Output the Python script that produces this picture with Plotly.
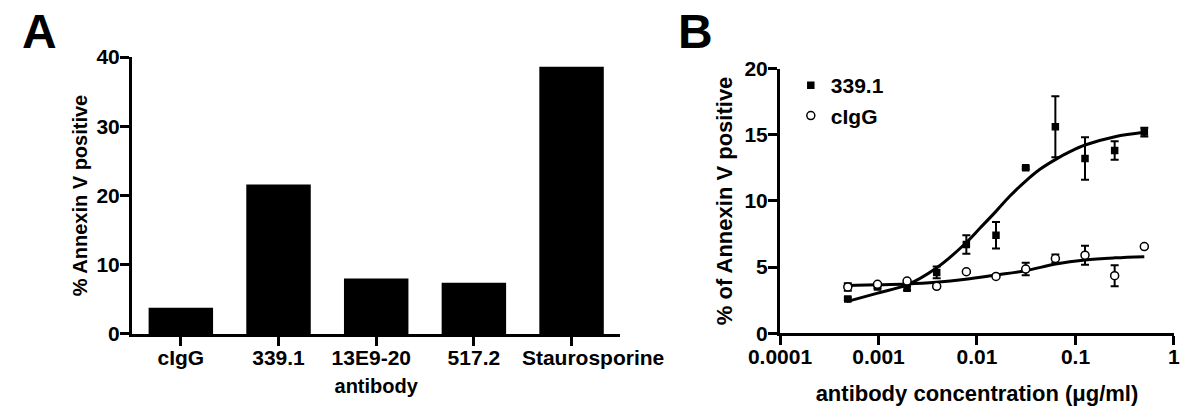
import plotly.graph_objects as go

# panel A - bar chart
antibodies = ["cIgG", "339.1", "13E9-20", "517.2", "Staurosporine"]
annexin_pct = [3.8, 21.6, 8.0, 7.4, 38.6]
# the long last label sits a little right of its tick in the original
label_offset = [0, 0, -0.05, 0, 0.22]

# panel B - dose response (2-fold dilution series from 0.5 ug/ml)
conc = [0.000488, 0.000977, 0.00195, 0.0039, 0.0078, 0.0156, 0.03125, 0.0625, 0.125, 0.25, 0.5]
ab339_mean = [2.6, 3.5, 3.4, 4.6, 6.7, 7.4, 12.5, 15.6, 13.2, 13.8, 15.2]
ab339_err = [0.1, 0.1, 0.15, 0.45, 0.7, 1.0, 0.1, 2.3, 1.6, 0.7, 0.33]
cigg_mean = [3.5, 3.7, 3.95, 3.55, 4.65, 4.3, 4.85, 5.65, 5.9, 4.35, 6.55]
cigg_err = [0.28, 0.1, 0.1, 0.1, 0.1, 0.1, 0.47, 0.3, 0.72, 0.79, 0.1]

# fitted curves
fit339_x = [0.000475, 0.00096, 0.00194, 0.00384, 0.00767, 0.0107, 0.0155, 0.0216, 0.0312,
            0.0436, 0.063, 0.088, 0.125, 0.252, 0.5]
fit339_y = [2.39, 3.02, 3.65, 4.91, 6.8, 7.93, 9.19, 10.37, 11.5, 12.39, 13.14, 13.72, 14.22, 14.85, 15.18]
fitcigg_x = [0.000475, 0.00096, 0.00194, 0.00384, 0.00767, 0.0155, 0.0312, 0.063, 0.125, 0.252, 0.5]
fitcigg_y = [3.62, 3.66, 3.72, 3.85, 4.08, 4.4, 4.73, 5.23, 5.54, 5.7, 5.79]

FONT = "Liberation Sans, Arial, sans-serif"

fig = go.Figure()

fig.add_trace(go.Bar(x=antibodies, y=annexin_pct, marker=dict(color="black", line=dict(width=0)),
                     width=0.66, showlegend=False, xaxis="x", yaxis="y"))

fig.add_trace(go.Scatter(x=fit339_x, y=fit339_y, mode="lines", line=dict(color="black", width=3, shape="spline"),
                         showlegend=False, xaxis="x2", yaxis="y2"))
fig.add_trace(go.Scatter(x=fitcigg_x, y=fitcigg_y, mode="lines", line=dict(color="black", width=3, shape="spline"),
                         showlegend=False, xaxis="x2", yaxis="y2"))

fig.add_trace(go.Scatter(x=conc, y=ab339_mean, mode="markers", name="339.1",
                         marker=dict(symbol="square", size=7.5, color="black"),
                         error_y=dict(type="data", array=ab339_err, color="black", thickness=2, width=4),
                         xaxis="x2", yaxis="y2"))
fig.add_trace(go.Scatter(x=conc, y=cigg_mean, mode="markers", name="cIgG",
                         marker=dict(symbol="circle", size=8, color="white", line=dict(color="black", width=1.5)),
                         error_y=dict(type="data", array=cigg_err, color="black", thickness=2, width=4),
                         xaxis="x2", yaxis="y2"))

axis_style = dict(showline=True, linecolor="black", linewidth=3, ticks="outside", ticklen=9,
                  tickwidth=3, tickcolor="black", showgrid=False, zeroline=False, automargin=False,
                  tickangle=0, tickfont=dict(size=21, color="black"))

label_pos = [i + off for i, off in enumerate(label_offset)]

fig.update_layout(
    width=1200, height=420,
    margin=dict(l=0, r=0, t=0, b=0),
    plot_bgcolor="white", paper_bgcolor="white",
    font=dict(family=FONT, color="black", weight="bold"),
    # bar axis: ticks only, labels come from the overlaid axis below
    xaxis=dict(domain=[0.11, 0.517], range=[-0.5, 4.5], anchor="y", showticklabels=False, **axis_style),
    xaxis3=dict(domain=[0.11, 0.517], range=[-0.5, 4.5], anchor="y", overlaying="x", side="bottom",
                showline=False, ticks="", showgrid=False, zeroline=False, automargin=False,
                tickvals=label_pos, ticktext=antibodies, tickangle=0, ticklabelstandoff=9,
                tickfont=dict(size=21, color="black"),
                title=dict(text="antibody", font=dict(size=20), standoff=11)),
    yaxis=dict(domain=[0.2048, 0.864], range=[0, 40], tickvals=[0, 10, 20, 30, 40], anchor="x",
               ticklabelstandoff=-4,
               title=dict(text="% Annexin V positive", font=dict(size=20), standoff=4), **axis_style),
    xaxis2=dict(domain=[0.65, 0.9783], type="log", range=[-4, 0], anchor="y2",
                tickvals=[0.0001, 0.001, 0.01, 0.1, 1], ticktext=["0.0001", "0.001", "0.01", "0.1", "1"],
                ticklabelstandoff=-7,
                title=dict(text="antibody concentration (μg/ml)", font=dict(size=22), standoff=20), **axis_style),
    yaxis2=dict(domain=[0.2064, 0.8369], range=[0, 20], tickvals=[0, 5, 10, 15, 20], anchor="x2",
                ticklabelstandoff=-4,
                title=dict(text="% of Annexin V positive", font=dict(size=22), standoff=6), **axis_style),
    legend=dict(x=0.659, y=0.845, xanchor="left", yanchor="top", bgcolor="rgba(0,0,0,0)",
                font=dict(size=21), itemsizing="trace", tracegroupgap=0),
    annotations=[
        dict(text="A", x=0.0167, y=0.993, xref="paper", yref="paper", xanchor="left", yanchor="top",
             showarrow=False, font=dict(size=48, weight="bold")),
        dict(text="B", x=0.563, y=0.993, xref="paper", yref="paper", xanchor="left", yanchor="top",
             showarrow=False, font=dict(size=48, weight="bold")),
    ],
)

# an empty trace so the label axis gets drawn
fig.add_trace(go.Scatter(x=[], y=[], xaxis="x3", yaxis="y", showlegend=False, hoverinfo="skip"))

fig.write_html("out.html", config={"displayModeBar": False},
               post_script="document.body.style.margin='0px';")
